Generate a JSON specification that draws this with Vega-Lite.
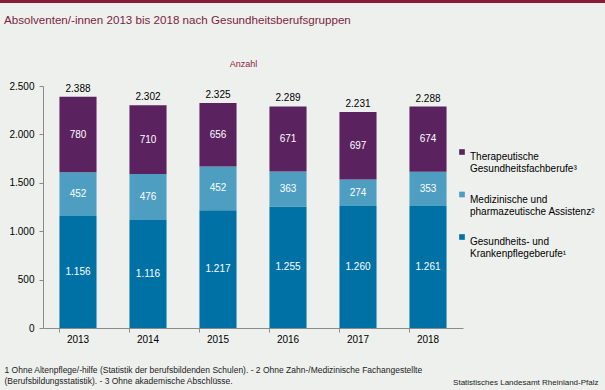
{
  "$schema": "https://vega.github.io/schema/vega-lite/v6.json",
  "width": 420,
  "height": 242,
  "autosize": {"type": "none"},
  "padding": {"left": 43, "top": 86, "right": 142, "bottom": 62},
  "background": "#eef0ee",
  "title": {
    "text": "Absolventen/-innen 2013 bis 2018 nach Gesundheitsberufsgruppen",
    "anchor": "start",
    "frame": "group",
    "dx": -39,
    "offset": -33,
    "baseline": "middle",
    "color": "#7b1f40",
    "fontSize": 11.6,
    "fontWeight": "normal",
    "font": "Liberation Sans"
  },
  "data": {
    "values": [
      {"year": "2013", "group": "Gesundheits- und Krankenpflegeberufe¹", "value": 1156, "rank": 1},
      {"year": "2013", "group": "Medizinische und pharmazeutische Assistenz²", "value": 452, "rank": 2},
      {"year": "2013", "group": "Therapeutische Gesundheitsfachberufe³", "value": 780, "rank": 3},
      {"year": "2014", "group": "Gesundheits- und Krankenpflegeberufe¹", "value": 1116, "rank": 1},
      {"year": "2014", "group": "Medizinische und pharmazeutische Assistenz²", "value": 476, "rank": 2},
      {"year": "2014", "group": "Therapeutische Gesundheitsfachberufe³", "value": 710, "rank": 3},
      {"year": "2015", "group": "Gesundheits- und Krankenpflegeberufe¹", "value": 1217, "rank": 1},
      {"year": "2015", "group": "Medizinische und pharmazeutische Assistenz²", "value": 452, "rank": 2},
      {"year": "2015", "group": "Therapeutische Gesundheitsfachberufe³", "value": 656, "rank": 3},
      {"year": "2016", "group": "Gesundheits- und Krankenpflegeberufe¹", "value": 1255, "rank": 1},
      {"year": "2016", "group": "Medizinische und pharmazeutische Assistenz²", "value": 363, "rank": 2},
      {"year": "2016", "group": "Therapeutische Gesundheitsfachberufe³", "value": 671, "rank": 3},
      {"year": "2017", "group": "Gesundheits- und Krankenpflegeberufe¹", "value": 1260, "rank": 1},
      {"year": "2017", "group": "Medizinische und pharmazeutische Assistenz²", "value": 274, "rank": 2},
      {"year": "2017", "group": "Therapeutische Gesundheitsfachberufe³", "value": 697, "rank": 3},
      {"year": "2018", "group": "Gesundheits- und Krankenpflegeberufe¹", "value": 1261, "rank": 1},
      {"year": "2018", "group": "Medizinische und pharmazeutische Assistenz²", "value": 353, "rank": 2},
      {"year": "2018", "group": "Therapeutische Gesundheitsfachberufe³", "value": 674, "rank": 3}
    ]
  },
  "layer": [
    {
      "mark": {"type": "bar"},
      "encoding": {
        "x": {
          "field": "year", "type": "nominal",
          "scale": {"paddingInner": 0.47, "paddingOuter": 0.235},
          "axis": {
            "orient": "bottom",
            "labelAngle": 0,
            "bandPosition": 0,
            "tickSize": 4,
            "labelPadding": 2,
            "labelFontSize": 10,
            "labelColor": "#000000",
            "domainColor": "#8a8a8a",
            "tickColor": "#8a8a8a",
            "title": [
              "1 Ohne Altenpflege/-hilfe  (Statistik der berufsbildenden  Schulen). - 2 Ohne Zahn-/Medizinische  Fachangestellte",
              "(Berufsbildungsstatistik). - 3 Ohne akademische Abschlüsse."
            ],
            "titleX": -39,
            "titleY": 37,
            "titleAlign": "left",
            "titleBaseline": "top",
            "titleAngle": 0,
            "titleFontSize": 8.5,
            "titleFontWeight": "normal",
            "titleColor": "#222222",
            "titleLineHeight": 11.5
          }
        },
        "y": {
          "field": "value", "type": "quantitative", "stack": "zero",
          "scale": {"domain": [0, 2500], "nice": false},
          "axis": {
            "values": [0, 500, 1000, 1500, 2000, 2500],
            "format": ",d",
            "grid": false,
            "tickSize": 4,
            "labelPadding": 5,
            "labelFontSize": 10,
            "labelColor": "#000000",
            "domainColor": "#8a8a8a",
            "tickColor": "#8a8a8a",
            "title": "Anzahl",
            "titleAngle": 0,
            "titleX": 200,
            "titleY": -23,
            "titleAlign": "center",
            "titleBaseline": "middle",
            "titleFontSize": 9,
            "titleFontWeight": "normal",
            "titleColor": "#8b1a3e"
          }
        },
        "color": {
          "field": "group", "type": "nominal",
          "scale": {
            "domain": ["Therapeutische Gesundheitsfachberufe³", "Medizinische und pharmazeutische Assistenz²", "Gesundheits- und Krankenpflegeberufe¹"],
            "range": ["#5a2360", "#4d9ec1", "#0071a4"]
          },
          "legend": {
            "orient": "none",
            "legendX": 414,
            "legendY": 61,
            "title": null,
            "symbolType": "square",
            "symbolSize": 32,
            "symbolStrokeWidth": 0,
            "labelFontSize": 10,
            "labelColor": "#000000",
            "labelOffset": 3,
            "labelLimit": 200,
            "labelLineHeight": 11.5,
            "labelBaseline": "top",
            "rowPadding": 15.5,
            "labelExpr": "datum.label == 'Therapeutische Gesundheitsfachberufe³' ? ['Therapeutische', 'Gesundheitsfachberufe³'] : datum.label == 'Medizinische und pharmazeutische Assistenz²' ? ['Medizinische und', 'pharmazeutische Assistenz²'] : ['Gesundheits- und', 'Krankenpflegeberufe¹']"
          }
        },
        "order": {"field": "rank", "type": "quantitative"}
      }
    },
    {
      "transform": [
        {"stack": "value", "groupby": ["year"], "sort": [{"field": "rank"}], "as": ["y0", "y1"]},
        {"calculate": "(datum.y0 + datum.y1) / 2", "as": "mid"}
      ],
      "mark": {"type": "text", "color": "#ffffff", "fontSize": 10, "baseline": "middle"},
      "encoding": {
        "x": {"field": "year", "type": "nominal", "axis": null},
        "y": {"field": "mid", "type": "quantitative", "axis": null},
        "text": {"field": "value", "type": "quantitative", "format": ",d"}
      }
    },
    {
      "transform": [
        {"aggregate": [{"op": "sum", "field": "value", "as": "total"}], "groupby": ["year"]}
      ],
      "mark": {"type": "text", "color": "#000000", "fontSize": 10, "baseline": "alphabetic", "dy": -5},
      "encoding": {
        "x": {
          "field": "year", "type": "nominal",
          "axis": {
            "orient": "top",
            "labels": false,
            "ticks": false,
            "domain": false,
            "title": "Statistisches Landesamt Rheinland-Pfalz",
            "titleX": 555,
            "titleY": 296,
            "titleAlign": "right",
            "titleBaseline": "middle",
            "titleAngle": 0,
            "titleFontSize": 8,
            "titleFontWeight": "normal",
            "titleColor": "#222222"
          }
        },
        "y": {"field": "total", "type": "quantitative", "axis": null},
        "text": {"field": "total", "type": "quantitative", "format": ",d"}
      }
    },
    {
      "data": {"values": [{}]},
      "mark": {"type": "rule", "color": "#8b1a3a", "strokeWidth": 3},
      "encoding": {
        "x": {"value": -43},
        "x2": {"value": 562},
        "y": {"value": -84.5}
      }
    }
  ],
  "resolve": {"axis": {"x": "independent", "y": "independent"}},
  "config": {
    "font": "Liberation Sans",
    "view": {"stroke": null},
    "locale": {
      "number": {"decimal": ",", "thousands": ".", "grouping": [3], "currency": ["", " €"]}
    }
  }
}
